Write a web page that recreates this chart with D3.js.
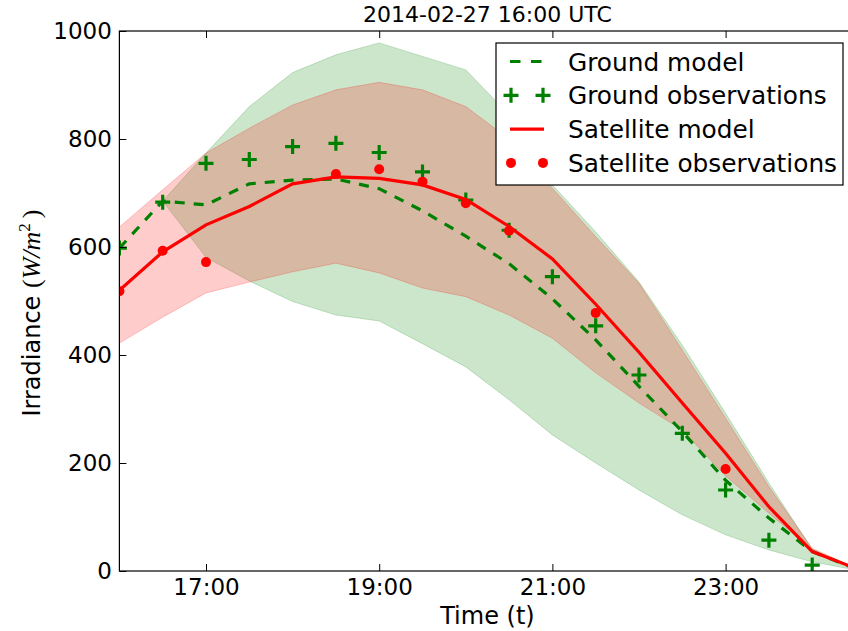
<!DOCTYPE html>
<html>
<head>
<meta charset="utf-8">
<script src="https://cdn.jsdelivr.net/npm/d3@7"></script>
<style>
  body { margin: 0; background: #fff; }
  svg { display: block; font-family: "DejaVu Sans", sans-serif; }
</style>
</head>
<body>
<div id="chart"></div>
<script>
// data, one value per half hour
const times = ["16:00", "16:30", "17:00", "17:30", "18:00", "18:30", "19:00", "19:30", "20:00",
  "20:30", "21:00", "21:30", "22:00", "22:30", "23:00", "23:30", "24:00", "24:30"];

const groundModel = [598, 685, 678, 717, 724, 726, 708, 667, 620, 569, 504, 428, 342, 258, 168, 98, 36, 4];
const groundObs = [598, 683, 755, 762, 786, 792, 775, 739, 687, 631, 545, 454, 363, 255, 150, 57, 11, null];
const groundLow = [null, 685, 581, 537, 499, 474, 463, 421, 378, 317, 252, 200, 150, 104, 67, 39, 17, 2];
const groundHigh = [null, 685, 774, 860, 923, 956, 978, 953, 928, 845, 715, 628, 535, 418, 292, 163, 40, 5];

const satModel = [520, 591, 641, 675, 717, 730, 727, 715, 688, 638, 578, 494, 405, 311, 218, 119, 36, 5];
const satObs = [518, 593, 572, null, null, 735, 744, 721, 681, 630, null, 478, null, null, 189, null, null, null];
const satLow = [422, 470, 515, 535, 554, 570, 552, 524, 508, 474, 431, 367, 311, 261, 176, 107, 40, 3];
const satHigh = [637, 706, 774, 820, 863, 891, 905, 891, 860, 800, 709, 619, 533, 409, 283, 156, 42, 6];

const xTickLabels = ["17:00", "19:00", "21:00", "23:00"];
const yTicks = [0, 200, 400, 600, 800, 1000];
const legendLabels = ["Ground model", "Ground observations", "Satellite model", "Satellite observations"];

const svgWidth = 848;
const svgHeight = 631;

const margin = { top: 31, left: 119.4 };
const width = 736.1;
const height = 540;

const GREEN = "#008000";
const RED = "#ff0000";

const svg = d3.select("#chart")
  .append("svg")
  .attr("width", svgWidth)
  .attr("height", svgHeight);

svg.append("defs").append("clipPath")
  .attr("id", "plotClip")
  .append("rect")
  .attr("width", width)
  .attr("height", height);

const chartGroup = svg.append("g")
  .attr("transform", `translate(${margin.left}, ${margin.top})`);

// "HH:MM" -> decimal hours
const toHours = t => {
  const [h, m] = t.split(":");
  return +h + (+m) / 60;
};
const hours = times.map(toHours);
const idx = d3.range(times.length);

const xScale = d3.scaleLinear()
  .domain([hours[0], hours[hours.length - 1]])
  .range([0, width]);

const yScale = d3.scaleLinear()
  .domain([0, 1000])
  .range([height, 0]);

const plot = chartGroup.append("g")
  .attr("clip-path", "url(#plotClip)");

// uncertainty bands
function band(low, high, color) {
  const area = d3.area()
    .defined(i => low[i] != null && high[i] != null)
    .x(i => xScale(hours[i]))
    .y0(i => yScale(low[i]))
    .y1(i => yScale(high[i]));
  plot.append("path")
    .datum(idx)
    .attr("d", area)
    .attr("fill", color)
    .attr("fill-opacity", 0.2)
    .attr("stroke", color)
    .attr("stroke-opacity", 0.2)
    .attr("stroke-width", 1);
}
band(groundLow, groundHigh, GREEN);
band(satLow, satHigh, RED);

function lineOf(values) {
  return d3.line()
    .defined(i => values[i] != null)
    .x(i => xScale(hours[i]))
    .y(i => yScale(values[i]));
}

const plusPath = s => `M${-s},0H${s}M0,${-s}V${s}`;

// ground model + observations
plot.append("path")
  .datum(idx)
  .attr("d", lineOf(groundModel))
  .attr("fill", "none")
  .attr("stroke", GREEN)
  .attr("stroke-width", 3.2)
  .attr("stroke-dasharray", "10,9");

plot.selectAll("path.ground-obs")
  .data(idx.filter(i => groundObs[i] != null))
  .enter()
  .append("path")
  .classed("ground-obs", true)
  .attr("transform", i => `translate(${xScale(hours[i])}, ${yScale(groundObs[i])})`)
  .attr("d", plusPath(7.5))
  .attr("stroke", GREEN)
  .attr("stroke-width", 3.2);

// satellite model + observations
plot.append("path")
  .datum(idx)
  .attr("d", lineOf(satModel))
  .attr("fill", "none")
  .attr("stroke", RED)
  .attr("stroke-width", 3.2);

plot.selectAll("circle.sat-obs")
  .data(idx.filter(i => satObs[i] != null))
  .enter()
  .append("circle")
  .classed("sat-obs", true)
  .attr("cx", i => xScale(hours[i]))
  .attr("cy", i => yScale(satObs[i]))
  .attr("r", 5)
  .attr("fill", RED);

// axes, ticks pointing inwards on all four sides
const xTickValues = xTickLabels.map(toHours);

const bottomAxis = d3.axisBottom(xScale)
  .tickValues(xTickValues)
  .tickFormat((d, i) => xTickLabels[i])
  .tickSize(-7)
  .tickPadding(8);
const topAxis = d3.axisTop(xScale)
  .tickValues(xTickValues)
  .tickFormat("")
  .tickSize(-7);
const leftAxis = d3.axisLeft(yScale)
  .tickValues(yTicks)
  .tickFormat(d3.format("d"))
  .tickSize(-7)
  .tickPadding(7.5);
const rightAxis = d3.axisRight(yScale)
  .tickValues(yTicks)
  .tickFormat("")
  .tickSize(-7);

const axisGroups = [
  chartGroup.append("g").attr("transform", `translate(0, ${height})`).call(bottomAxis),
  chartGroup.append("g").call(topAxis),
  chartGroup.append("g").call(leftAxis),
  chartGroup.append("g").attr("transform", `translate(${width}, 0)`).call(rightAxis)
];
axisGroups.forEach(g => {
  g.select(".domain").remove();
  g.selectAll("line").attr("stroke", "#000").attr("stroke-width", 1);
  g.selectAll("text")
    .attr("fill", "#000")
    .style("font-family", "DejaVu Sans")
    .style("font-size", "23px");
});

chartGroup.append("rect")
  .attr("width", width)
  .attr("height", height)
  .attr("fill", "none")
  .attr("stroke", "#000")
  .attr("stroke-width", 1.2);

// title
chartGroup.append("text")
  .attr("x", width / 2)
  .attr("y", -9)
  .attr("text-anchor", "middle")
  .style("font-size", "22px")
  .text("2014-02-27 16:00 UTC");

// axis labels
chartGroup.append("text")
  .attr("x", width / 2)
  .attr("y", height + 53)
  .attr("text-anchor", "middle")
  .style("font-size", "24px")
  .text("Time (t)");

const yLabel = chartGroup.append("text")
  .attr("transform", `translate(${40 - margin.left}, ${height / 2 + 12}) rotate(-90)`)
  .attr("text-anchor", "middle")
  .style("font-size", "24px");
yLabel.append("tspan").text("Irradiance ");
yLabel.append("tspan").style("font-family", "Liberation Serif").style("font-size", "26px").text("(");
yLabel.append("tspan").style("font-family", "Liberation Serif").style("font-size", "26px")
  .style("font-style", "italic").text("W/m");
yLabel.append("tspan").style("font-family", "Liberation Serif").style("font-size", "17px")
  .attr("dy", -10).text("2");
yLabel.append("tspan").style("font-family", "Liberation Serif").style("font-size", "26px")
  .attr("dy", 10).attr("dx", 5).text(")");

// legend
const legend = svg.append("g")
  .attr("transform", "translate(496, 43)");

legend.append("rect")
  .attr("width", 347)
  .attr("height", 142)
  .attr("fill", "#fff")
  .attr("stroke", "#000")
  .attr("stroke-width", 1.2);

const rowY = i => 18.5 + i * 33.8;

legendLabels.forEach((label, i) => {
  legend.append("text")
    .attr("x", 72)
    .attr("y", rowY(i) + 9)
    .style("font-size", "24.8px")
    .text(label);
});

legend.append("line")
  .attr("x1", 14).attr("x2", 48)
  .attr("y1", rowY(0)).attr("y2", rowY(0))
  .attr("stroke", GREEN).attr("stroke-width", 3.2)
  .attr("stroke-dasharray", "10.5,10.5");

[15, 47].forEach(x => {
  legend.append("path")
    .attr("transform", `translate(${x}, ${rowY(1)})`)
    .attr("d", plusPath(7.5))
    .attr("stroke", GREEN)
    .attr("stroke-width", 3.2);
  legend.append("circle")
    .attr("cx", x)
    .attr("cy", rowY(3))
    .attr("r", 5)
    .attr("fill", RED);
});

legend.append("line")
  .attr("x1", 14).attr("x2", 48)
  .attr("y1", rowY(2)).attr("y2", rowY(2))
  .attr("stroke", RED).attr("stroke-width", 3.2);
</script>
</body>
</html>
